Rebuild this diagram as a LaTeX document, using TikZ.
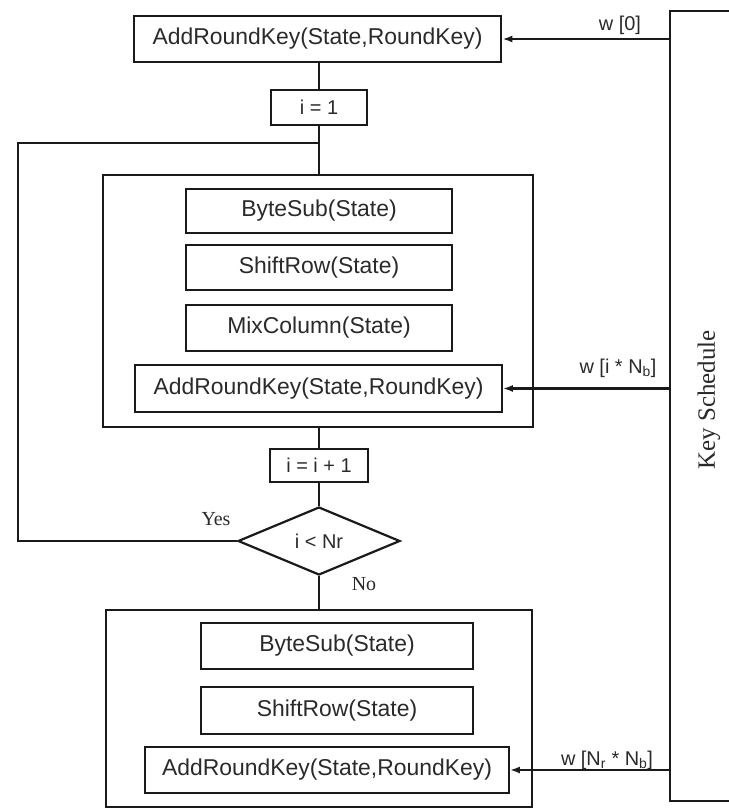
\documentclass[tikz,border=0pt]{standalone}
\usepackage{fontspec}
\setmainfont{Liberation Sans}
\newfontfamily\serifface{Liberation Serif}
\usetikzlibrary{arrows.meta,shapes.geometric}
\definecolor{ink}{HTML}{1A1A1A}
\definecolor{txt}{HTML}{2A2A2A}
\tikzset{
  opbox/.style={draw=ink, line width=2.4bp, inner sep=0pt, text=txt,
    font=\fontsize{23}{27}\selectfont},
  keybox/.style={draw=ink, line width=1.8bp, inner sep=0pt, text=txt,
    font=\fontsize{23}{27}\selectfont},
  bigbox/.style={draw=ink, line width=2.8bp, inner sep=0pt},
  smallbox/.style={draw=ink, line width=2bp, inner sep=0pt, text=txt,
    font=\fontsize{20}{24}\selectfont},
  decision/.style={draw=ink, diamond, line width=2.2bp, inner sep=0pt, aspect=2.4,
    text=txt, font=\fontsize{20}{24}\selectfont},
  conn/.style={draw=ink, line width=2bp},
  feed/.style={draw=ink, line width=2.2bp, -{Latex[length=10bp,width=7bp]}},
  wlabel/.style={text=txt, inner sep=0pt, font=\fontsize{20}{24}\selectfont},
  serlabel/.style={text=txt, inner sep=0pt, font=\serifface\fontsize{20}{24}\selectfont},
}
\begin{document}
\begin{tikzpicture}[x=1bp,y=-1bp]
\useasboundingbox (0,0) rectangle (729,809);
\fill[white] (0,0) rectangle (729,809);

% key schedule frame
\coordinate (ksTL) at (670,11);
\coordinate (ksBL) at (670,801);
\coordinate (ksTR) at (729,11);
\coordinate (ksBR) at (729,801);
\draw[ink, line width=1.6bp] (ksTR) -- (ksTL) -- (ksBL) -- (ksBR);
\node (ks) [rotate=90, text=txt, inner sep=0pt, font=\serifface\fontsize{25}{28}\selectfont] at (709,400) {Key Schedule};

% initial round
\node (ark0) [opbox, line width=2.8bp, minimum width=367bp, minimum height=46bp] at (317.5,39) {AddRoundKey(State,RoundKey)};
\node (i1) [smallbox, minimum width=96bp, minimum height=35bp] at (319,107.5) {i = 1};

% loop rounds
\node (loop) [bigbox, minimum width=430bp, minimum height=252bp] at (318,301) {};
\node (bs1) [opbox, minimum width=266bp, minimum height=44bp] at (319,211) {ByteSub(State)};
\node (sr1) [opbox, minimum width=266bp, minimum height=45bp] at (319,267.5) {ShiftRow(State)};
\node (mc1) [opbox, minimum width=266bp, minimum height=46bp] at (319,328) {MixColumn(State)};
\node (ark1) [keybox, minimum width=367bp, minimum height=47bp] at (318.5,388.5) {AddRoundKey(State,RoundKey)};

\node (inc) [smallbox, minimum width=98bp, minimum height=33bp] at (319,465.5) {i = i + 1};
\node (dec) [decision, minimum width=162bp, minimum height=68bp] at (319,541) {i < Nr};

% final round
\node (fin) [bigbox, minimum width=426bp, minimum height=197bp] at (319,708.5) {};
\node (bs2) [opbox, minimum width=272bp, minimum height=46bp] at (337,646) {ByteSub(State)};
\node (sr2) [opbox, minimum width=272bp, minimum height=47bp] at (337,710.5) {ShiftRow(State)};
\node (ark2) [keybox, minimum width=364bp, minimum height=46bp] at (327,770) {AddRoundKey(State,RoundKey)};

% connectors
\coordinate (jn) at (319,143);
\coordinate (lc) at (18,143);
\draw[conn] (ark0.south -| i1.north) -- (i1.north);
\draw[conn] (i1.south) -- (jn) -- (jn |- loop.north);
\draw[conn] (dec.west) -| (lc) -- (jn);
\draw[conn] (loop.south -| inc.north) -- (inc.north);
\draw[conn] (inc.south) -- (dec.north);
\draw[conn] (dec.south) -- (dec.south |- fin.north);

% key feeds
\draw[feed] (ksTL |- ark0.east) -- (ark0.east);
\draw[feed] (ksTL |- ark1.east) -- (ark1.east);
\draw[feed] (ksTL |- ark2.east) -- (ark2.east);

% labels
\node (w0) [wlabel] at (620,25) {w [0]};
\node (wi) [wlabel] at (618,368) {w [i * N\textsubscript{b}]};
\node (wn) [wlabel] at (607,760) {w [N\textsubscript{r} * N\textsubscript{b}]};
\node (yes) [serlabel] at (216,519) {Yes};
\node (no) [serlabel] at (364,584) {No};
\end{tikzpicture}
\end{document}
